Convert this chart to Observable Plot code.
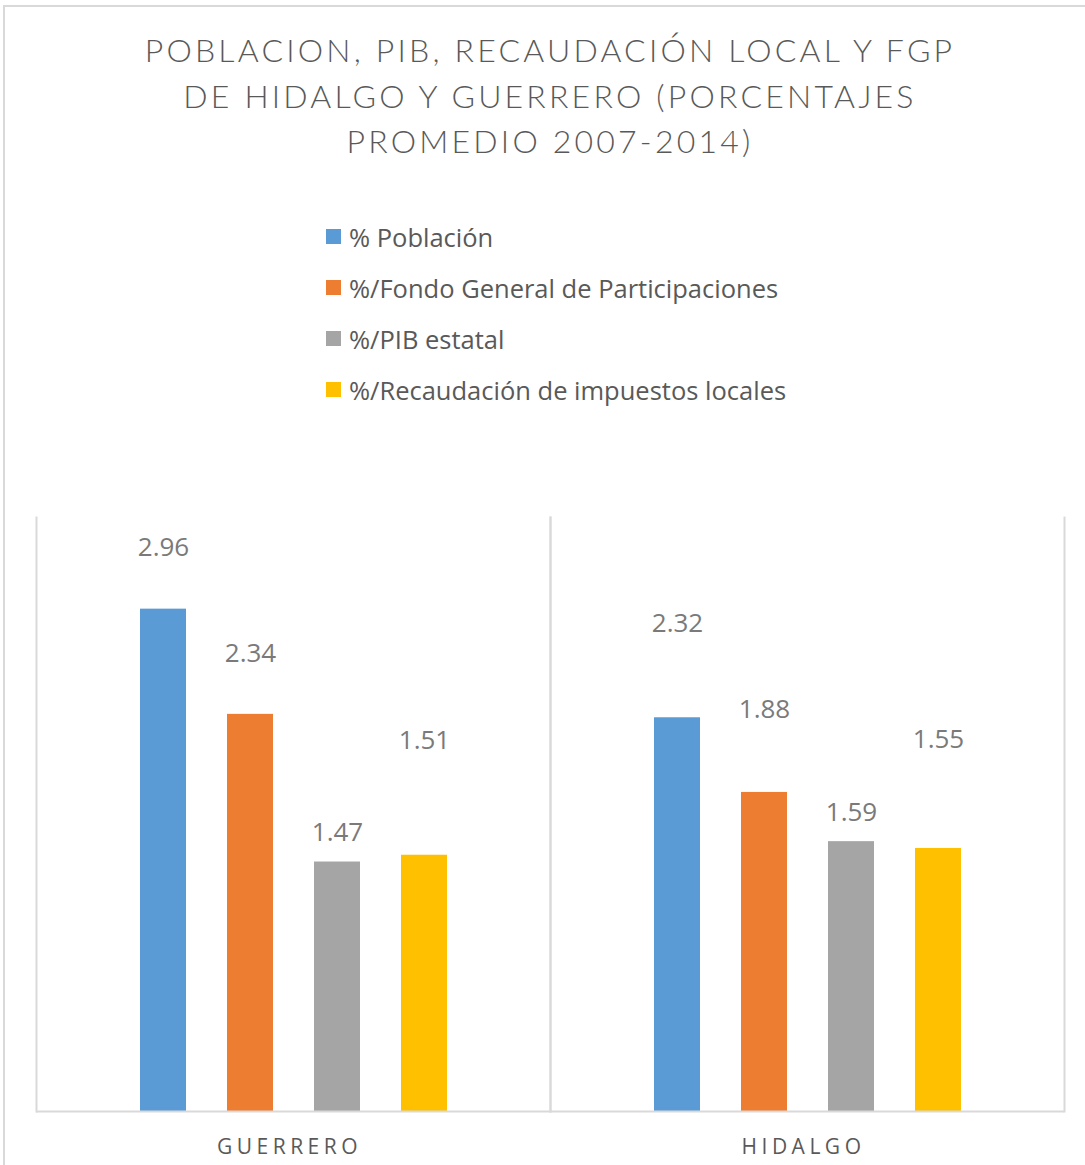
<!DOCTYPE html>
<html>
<head>
<meta charset="utf-8">
<script src="https://cdn.jsdelivr.net/npm/d3@7"></script>
<script src="https://cdn.jsdelivr.net/npm/@observablehq/plot@0.6"></script>
<style>
  html, body { margin: 0; padding: 0; background: #fff; overflow: hidden; }
  #page { position: relative; width: 1085px; height: 1165px; font-family: "Open Sans", Lato, sans-serif; color: #595959; }
  #outer { position: absolute; left: 3px; top: 5px; width: 1300px; height: 1400px; border: 2px solid #d9d9d9; box-sizing: border-box; }
  #title { position: absolute; left: 0; width: 1100px; top: 27px; text-align: center; font-family: Lato, sans-serif; font-size: 32px; line-height: 45.5px; letter-spacing: 3.2px; font-weight: 300; color: #595959; }
  #legend { position: absolute; left: 326px; top: 211px; }
  .row { height: 51px; display: flex; align-items: center; font-size: 25.5px; color: #595959; }
  .sw { width: 15px; height: 15px; margin-right: 8px; flex: none; }
  #chart { position: absolute; left: 0; top: 460px; }
  #chart g[aria-label="fx-axis tick label"] text { font-size: 21px; letter-spacing: 4.5px; }
</style>
</head>
<body>
<div id="page">
  <div id="outer"></div>
  <div id="title">POBLACION, PIB, RECAUDACIÓN LOCAL Y FGP<br>DE HIDALGO Y GUERRERO (PORCENTAJES<br>PROMEDIO 2007-2014)</div>
  <div id="legend"></div>
  <div id="chart"></div>
</div>
<script>
const states = ["GUERRERO", "HIDALGO"];
const series = ["% Población", "%/Fondo General de Participaciones", "%/PIB estatal", "%/Recaudación de impuestos locales"];
const guerrero = [2.96, 2.34, 1.47, 1.51];
const hidalgo = [2.32, 1.88, 1.59, 1.55];
const colors = ["#5B9BD5", "#ED7D31", "#A5A5A5", "#FFC000"];
const labelLift = [61, 61, 29, 115, 94, 83, 29, 109];

const rows = [];
[guerrero, hidalgo].forEach((vals, si) => {
  vals.forEach((v, i) => rows.push({state: states[si], series: series[i], value: v}));
});

const legend = document.getElementById("legend");
series.forEach((s, i) => {
  const r = document.createElement("div");
  r.className = "row";
  const sw = document.createElement("span");
  sw.className = "sw";
  sw.style.background = colors[i];
  const t = document.createElement("span");
  t.textContent = s;
  r.appendChild(sw); r.appendChild(t);
  legend.appendChild(r);
});

const chart = Plot.plot({
  width: 1085,
  height: 705,
  marginLeft: 36,
  marginRight: 21,
  marginTop: 57,
  marginBottom: 54,
  style: {fontFamily: "'Open Sans', Lato, sans-serif", fontSize: "24px", color: "#595959", background: "transparent"},
  fx: {domain: states, padding: 0, label: null},
  x: {domain: series, paddingInner: 0.475, paddingOuter: 1.17, axis: null},
  y: {domain: [0, 3.5], axis: null},
  color: {domain: series, range: colors},
  marks: [
    Plot.frame({anchor: "left", stroke: "#d9d9d9", strokeWidth: 2}),
    Plot.frame({anchor: "right", stroke: "#d9d9d9", strokeWidth: 2}),
    Plot.barY(rows, {fx: "state", x: "series", y: "value", fill: "series"}),
    Plot.ruleY([0], {stroke: "#d9d9d9", strokeWidth: 2}),
    ...rows.map((r, i) => Plot.text([r], {
      fx: "state", x: "series", y: "value",
      text: d => d.value.toFixed(2),
      dy: -labelLift[i], fill: "#7a7a7a", fontSize: 26
    })),
    Plot.axisFx({anchor: "bottom", tickSize: 0, tickPadding: 28, dx: -4, label: null})
  ]
});
document.getElementById("chart").appendChild(chart);
</script>
</body>
</html>
